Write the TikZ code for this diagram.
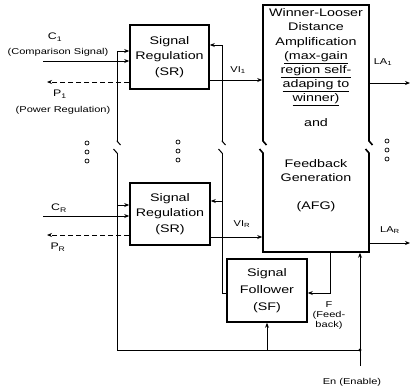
\documentclass[tikz,border=0pt]{standalone}
\usepackage{fontspec}
\setmainfont{Liberation Sans}[FakeStretch=1.3]
\usetikzlibrary{arrows.meta}

\tikzset{
  cut/.pic={
    \fill[white] (-5,-6) rectangle (5,6);
    \draw (0,-6.5) -- (0,-6) -- (3.5,-2);
    \draw (-3.5,2) -- (0,6) -- (0,6.5);
  }
}

\begin{document}
\begin{tikzpicture}[x=1pt,y=-1pt,>={Stealth[length=5pt,width=4pt]},
  blk/.style={draw,line width=1.6pt,inner sep=0pt,align=center,font=\fontsize{11}{15.5}\selectfont},
  wire/.style={line width=1pt},
  lbl/.style={font=\fontsize{8.5}{10}\selectfont,inner sep=0pt,align=center},
  sig/.style={font=\fontsize{9.5}{10}\selectfont,inner sep=0pt},
  txt/.style={font=\fontsize{11}{14.2}\selectfont,inner sep=0pt,align=center}]
  \useasboundingbox (0,0) rectangle (412,389);

  % blocks
  \node[blk,minimum width=79pt,minimum height=64pt] (sr1) at (169.5,57) {Signal\\Regulation\\(SR)};
  \node[blk,minimum width=80pt,minimum height=62pt] (sr2) at (170,214) {Signal\\Regulation\\(SR)};
  \node[blk,minimum width=106pt,minimum height=247pt] (afg) at (316,128.5) {};
  \node[blk,minimum width=80pt,minimum height=63pt,font=\fontsize{11}{17}\selectfont] (sf) at (267,290.5) {Signal\\Follower\\(SF)};

  \node[txt] (afgtop) at (316,57.5) {Winner-Looser\\Distance\\Amplification\\\underline{(max-gain}\\\underline{region self-}\\\underline{adaping to}\\\underline{winner)}};
  \node[txt] (afgand) at (316,123) {and};
  \node[txt] (afgfb) at (316,170.5) {Feedback\\Generation};
  \node[txt] (afgname) at (316,207) {(AFG)};

  % free ends
  \coordinate (c1) at (43,61);
  \coordinate (p1) at (47,82);
  \coordinate (cR) at (43,216);
  \coordinate (pR) at (47,235);
  \coordinate (la1) at (410,83);
  \coordinate (laR) at (410,243);
  \coordinate (busb) at (117,350);
  \coordinate (en) at (360,350);
  \coordinate (enin) at (360,366);
  \coordinate (fb) at (330,293);
  \coordinate (sfo) at (222,293);
  \coordinate (b1) at ([yshift=6pt]sr1.west);
  \coordinate (b2) at ([yshift=9pt]sr2.west);
  \coordinate (s1f) at ([yshift=12pt]sr1.east);
  \coordinate (s2f) at ([yshift=13pt]sr2.east);
  \coordinate (vi1) at ([yshift=-23pt]sr1.east);
  \coordinate (viR) at ([yshift=-23pt]sr2.east);

  % inputs and outputs of the SR blocks
  \draw[wire,->] (c1) -- (c1 -| sr1.west);
  \draw[wire,dashed,dash pattern=on 5pt off 3pt,->] (p1 -| sr1.west) -- (p1);
  \draw[wire,->] (cR) -- (cR -| sr2.west);
  \draw[wire,dashed,dash pattern=on 5pt off 3pt,->] (pR -| sr2.west) -- (pR);
  \draw[wire,->] (vi1) -- (vi1 -| afg.west);
  \draw[wire,->] (viR) -- (viR -| afg.west);
  \draw[wire,->] (afg.east |- la1) -- (la1);
  \draw[wire,->] (afg.east |- laR) -- (laR);

  % enable bus
  \draw[wire,->] (busb) -- (busb |- b1) -- (b1);
  \draw[wire,->] (busb |- b2) -- (b2);
  \draw[wire] (busb) -- (en);
  \fill (en) circle[radius=1.6pt];
  \draw[wire,->] (enin) -- (enin |- afg.south);
  \draw[wire,->] (sf.south |- en) -- (sf.south);

  % feedback
  \draw[wire,->] (afg.south -| fb) -- (fb) -- (fb -| sf.east);
  \draw[wire,->] (sf.west |- sfo) -- (sfo) -- (sfo |- s1f) -- (s1f);
  \draw[wire,->] (sfo |- s2f) -- (s2f);

  % breaks
  \pic[wire] at (117,147) {cut};
  \pic[wire] at (222,147) {cut};
  \pic[line width=1.6pt] at (263,147) {cut};
  \pic[line width=1.6pt] at (369,147) {cut};

  % dots
  \foreach \px/\py in {87/143,178/142,387/141}
    \foreach \k in {0,9,18}
      \draw[line width=0.7pt] (\px,\py+\k) circle[radius=2pt];

  % labels
  \node[sig] (c1lab) at (55,37) {C\textsubscript{1}};
  \node[lbl] (c1txt) at (58,52) {(Comparison Signal)};
  \node[sig] (p1lab) at (60,94) {P\textsubscript{1}};
  \node[lbl] (p1txt) at (63,110) {(Power Regulation)};
  \node[sig] (cRlab) at (59,208) {C\textsubscript{R}};
  \node[sig] (pRlab) at (58,247) {P\textsubscript{R}};
  \node[lbl] (vi1lab) at (238,70) {VI\textsubscript{1}};
  \node[lbl] (viRlab) at (242,224) {VI\textsubscript{R}};
  \node[lbl] (la1lab) at (383,62) {LA\textsubscript{1}};
  \node[lbl] (laRlab) at (390,230) {LA\textsubscript{R}};
  \node[lbl] (flab) at (329,315) {F\\(Feed-\\back)};
  \node[lbl] (enlab) at (352,382) {En (Enable)};
\end{tikzpicture}
\end{document}
